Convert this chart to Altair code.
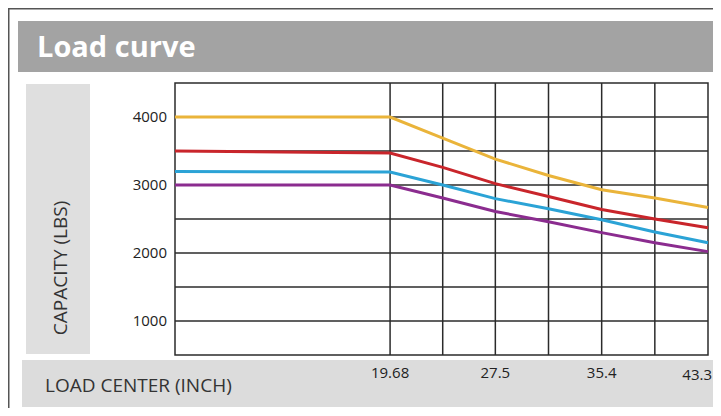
import altair as alt
import pandas as pd

# ---- data ----
load_center = [3.7, 19.68, 23.59, 27.5, 31.45, 35.4, 39.35, 43.3]
yellow = [4000, 4000, 3690, 3380, 3140, 2930, 2810, 2670]
red = [3500, 3470, 3260, 3020, 2830, 2640, 2500, 2370]
blue = [3200, 3190, 3000, 2800, 2650, 2490, 2310, 2150]
purple = [3000, 3000, 2810, 2610, 2460, 2300, 2150, 2020]

series_names = ["yellow", "red", "blue", "purple"]
series_colors = ["#eab43a", "#c9252b", "#2ba3d6", "#8b2c8f"]

x_tick_values = [19.68, 27.5, 35.4, 43.3]
x_tick_labels = ["19.68", "27.5", "35.4", "43.3"]
x_grid = [19.68, 23.59, 27.5, 31.45, 35.4, 39.35]
y_tick_values = [1000, 2000, 3000, 4000]
y_grid = [1000, 1500, 2000, 2500, 3000, 3500, 4000]

title_text = "Load curve"
y_title = "CAPACITY (LBS)"
x_title = "LOAD CENTER (INCH)"

W, H = 533, 272
FONT = "Open Sans"

xs = alt.Scale(domain=[3.7, 43.3], nice=False, zero=False)
ys = alt.Scale(domain=[500, 4500], nice=False, zero=False)

rows = []
for name, vals in zip(series_names, [yellow, red, blue, purple]):
    for xv, yv in zip(load_center, vals):
        rows.append({"series": name, "x": xv, "y": yv})
curves_df = pd.DataFrame(rows)

one = pd.DataFrame({"t": [""]})

def band(x1, x2, y1, y2, color):
    return alt.Chart(one).mark_rect(color=color).encode(
        x=alt.value(x1), x2=alt.value(x2), y=alt.value(y1), y2=alt.value(y2)
    )

# frame (thin dark bars along top and left)
frame_top = band(-167, 538, -75, -73.5, "#555555")
frame_left = band(-167, -165.5, -75, 325, "#555555")

title_band = band(-157, 538, -62, -11, "#a3a3a3")
ytitle_band = band(-149, -85, 1, 271, "#dfdfdf")
xtitle_band = band(-153, 538, 277, 324, "#dcdcdc")

title = alt.Chart(pd.DataFrame({"t": [title_text]})).mark_text(
    font=FONT, fontSize=29, fontWeight="bold", color="white", align="left", baseline="alphabetic"
).encode(x=alt.value(-138), y=alt.value(-26), text="t:N")

ytitle = alt.Chart(pd.DataFrame({"t": [y_title]})).mark_text(
    font=FONT, fontSize=19, color="#333333", angle=270, align="center", baseline="middle"
).encode(x=alt.value(-114), y=alt.value(185), text="t:N")

xtitle = alt.Chart(pd.DataFrame({"t": [x_title]})).mark_text(
    font=FONT, fontSize=19, color="#333333", align="left", baseline="middle"
).encode(x=alt.value(-130), y=alt.value(303), text="t:N")

vgrid = alt.Chart(pd.DataFrame({"x": x_grid})).mark_rule(color="#2b2b2b", strokeWidth=1.5).encode(
    x=alt.X("x:Q", scale=xs, axis=None), y=alt.value(0), y2=alt.value(H)
)
hgrid = alt.Chart(pd.DataFrame({"y": y_grid})).mark_rule(color="#2b2b2b", strokeWidth=1.5).encode(
    y=alt.Y("y:Q", scale=ys, axis=None), x=alt.value(0), x2=alt.value(W)
)

curves = alt.Chart(curves_df).mark_line(strokeWidth=3).encode(
    x=alt.X("x:Q", scale=xs, axis=None),
    y=alt.Y("y:Q", scale=ys, axis=None),
    color=alt.Color("series:N", scale=alt.Scale(domain=series_names, range=series_colors), legend=None),
    detail="series:N",
)

xl_df = pd.DataFrame({"x": x_tick_values[:-1], "t": x_tick_labels[:-1]})
xlabels = alt.Chart(xl_df).mark_text(
    font=FONT, fontSize=15, color="#222222", align="center", baseline="middle"
).encode(x=alt.X("x:Q", scale=xs, axis=None), y=alt.value(H + 18), text="t:N")

xl_last = alt.Chart(pd.DataFrame({"x": x_tick_values[-1:], "t": x_tick_labels[-1:]})).mark_text(
    font=FONT, fontSize=15, color="#222222", align="right", baseline="middle", dx=4
).encode(x=alt.X("x:Q", scale=xs, axis=None), y=alt.value(H + 20), text="t:N")

ylabels = alt.Chart(pd.DataFrame({"y": y_tick_values, "t": [str(v) for v in y_tick_values]})).mark_text(
    font=FONT, fontSize=15, color="#222222", align="right", baseline="middle"
).encode(y=alt.Y("y:Q", scale=ys, axis=None), x=alt.value(-8), text="t:N")

chart = alt.layer(
    frame_top, frame_left, title_band, ytitle_band, xtitle_band,
    title, ytitle, xtitle,
    vgrid, hgrid, curves, xlabels, xl_last, ylabels,
).properties(
    width=W, height=H,
    autosize=alt.AutoSizeParams(type="none"),
    padding={"left": 167, "top": 75, "right": 5, "bottom": 53},
    background="white",
).configure_view(stroke="#2b2b2b", strokeWidth=1.5)

chart.save("out.html", embed_options={"renderer": "svg", "actions": False})
